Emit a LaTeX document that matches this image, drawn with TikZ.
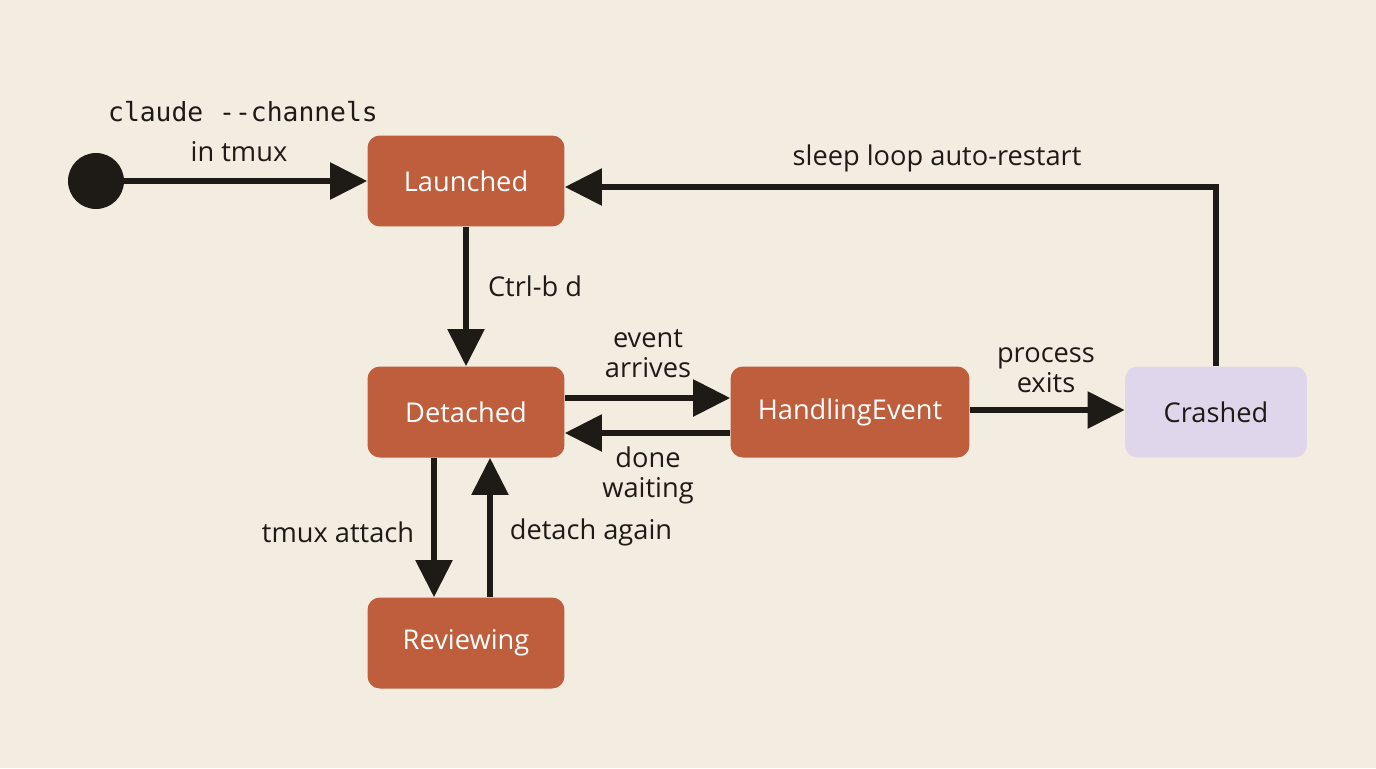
\documentclass[tikz,border=0pt]{standalone}
\usepackage{fontspec}
\setmainfont{Open Sans}
\setmonofont{DejaVu Sans Mono}
\usetikzlibrary{positioning}
\usetikzlibrary{arrows.meta}
\definecolor{bgcol}{RGB}{243,237,225}
\definecolor{statecol}{RGB}{190,94,60}
\definecolor{crashcol}{RGB}{224,214,236}
\definecolor{inkcol}{RGB}{30,26,22}
\tikzset{
state/.style={fill=statecol, rounded corners=7pt, minimum width=3.94cm, minimum height=1.82cm, text=white, font=\fontsize{15.5}{18}\selectfont},
trans/.style={draw=inkcol, line width=3.2pt, -{Triangle[length=0.74cm, width=0.72cm]}},
lbl/.style={text=inkcol, font=\fontsize{15.5}{17}\selectfont, align=center, inner sep=1pt}
}
\begin{document}
\begin{tikzpicture}[x=0.02cm, y=-0.02cm]
\fill[bgcol] (0,0) rectangle (1376,768);

% states
{
\node[circle, fill=inkcol, minimum size=1.12cm, inner sep=0pt] (start) at (96,181) {};
\node[state] (launched) at (466,181) {Launched};
\node[state] (detached) at (466,412) {Detached};
\node[state] (reviewing) at (466,643) {Reviewing};
\node[state, minimum width=4.78cm] (handling) at (850,412) {HandlingEvent};
\node[state, fill=crashcol, text=inkcol, minimum width=3.64cm] (crashed) at (1216,412) {Crashed};
}

% rails
\coordinate (upper) at (0,398);
\coordinate (lower) at (0,433);
\coordinate (exitrow) at (0,410);
\coordinate (backrow) at (0,187);
\coordinate (down) at (434,0);
\coordinate (up) at (490,0);

% transitions
{
\draw[trans] (start) -- (launched.west);
\draw[trans] (launched.south) -- (detached.north);
\draw[trans] (detached.east |- upper) -- (handling.west |- upper);
\draw[trans] (handling.west |- lower) -- (detached.east |- lower);
\draw[trans] (handling.east |- exitrow) -- (crashed.west |- exitrow);
\draw[trans] (crashed.north) |- (launched.east |- backrow);
\draw[trans] (down |- detached.south) -- (down |- reviewing.north);
\draw[trans] (up |- reviewing.north) -- (up |- detached.south);
}

% labellings
{
\node[lbl, font=\ttfamily\fontsize{15}{17}\selectfont] (cmd) at (243,112) {claude --channels};
\node[lbl] (intmux) at (239,152) {in tmux};
\node[lbl] (ctrlb) at (535,286) {Ctrl-b d};
\node[lbl] (arrives) at (648,354) {event\\arrives};
\node[lbl] (waiting) at (648,475) {done\\waiting};
\node[lbl] (exits) at (1046,370) {process\\exits};
\node[lbl] (restart) at (937,158) {sleep loop auto-restart};
\node[lbl] (attach) at (338,532) {tmux attach};
\node[lbl] (again) at (591,532) {detach again};
}
\end{tikzpicture}
\end{document}
